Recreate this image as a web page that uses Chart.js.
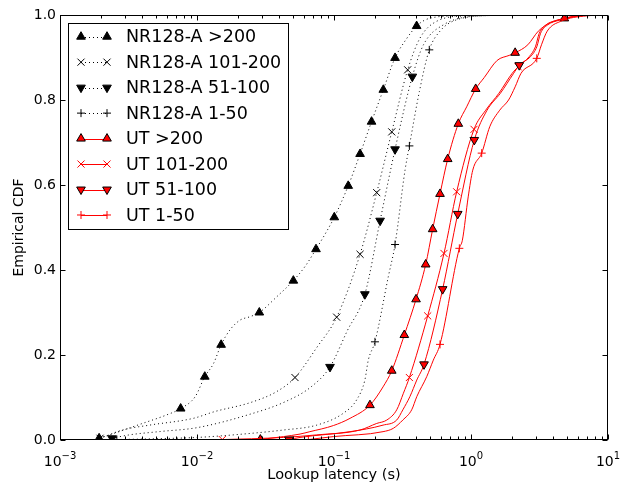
<!DOCTYPE html>
<html>
<head>
<meta charset="utf-8">
<script src="https://cdn.jsdelivr.net/npm/chart.js@4/dist/chart.umd.min.js"></script>
<style>
  html, body { margin: 0; padding: 0; background: #fff; }
</style>
</head>
<body>
<canvas id="c" width="628" height="484"></canvas>
<script>
// Empirical CDFs of lookup latency (s).
const nrOver200X = [0.00193, 0.0026, 0.0040, 0.0060, 0.0076, 0.0097, 0.0114, 0.0132, 0.0150, 0.0174, 0.0206, 0.0243, 0.0285, 0.0382, 0.0505, 0.062, 0.0739, 0.087, 0.1005, 0.127, 0.155, 0.188, 0.229, 0.279, 0.34, 0.401, 0.46, 0.55, 0.75, 1.2, 3.0, 8.0];
const nrOver200Y = [0.004, 0.018, 0.039, 0.059, 0.074, 0.102, 0.149, 0.180, 0.224, 0.259, 0.282, 0.290, 0.300, 0.337, 0.375, 0.410, 0.449, 0.487, 0.524, 0.598, 0.673, 0.749, 0.824, 0.899, 0.945, 0.974, 0.988, 0.995, 0.998, 0.999, 1.0, 1.0];
const nrOver200Marks = [0, 4, 6, 8, 12, 14, 16, 18, 19, 20, 21, 22, 23, 25];

const nr101X = [0.00196, 0.0029, 0.0045, 0.0094, 0.0135, 0.0245, 0.0382, 0.0519, 0.075, 0.1046, 0.155, 0.205, 0.264, 0.345, 0.425, 0.56, 0.93, 2.5, 8.0];
const nr101Y = [0.004, 0.024, 0.035, 0.051, 0.067, 0.088, 0.114, 0.147, 0.218, 0.289, 0.437, 0.582, 0.725, 0.871, 0.946, 0.985, 0.998, 1.0, 1.0];
const nr101Marks = [0, 7, 9, 10, 11, 12, 13];

const nr51X = [0.0024, 0.0032, 0.0054, 0.0100, 0.024, 0.044, 0.068, 0.0935, 0.125, 0.168, 0.217, 0.279, 0.373, 0.45, 0.63, 1.2, 3.0, 8.0];
const nr51Y = [0.004, 0.012, 0.020, 0.029, 0.060, 0.090, 0.125, 0.172, 0.257, 0.343, 0.516, 0.684, 0.855, 0.930, 0.977, 0.998, 1.0, 1.0];
const nr51Marks = [0, 7, 9, 10, 11, 12];

const nr1X = [0.0026, 0.0050, 0.0100, 0.0200, 0.0427, 0.0748, 0.117, 0.146, 0.168, 0.178, 0.199, 0.249, 0.279, 0.33, 0.355, 0.42, 0.496, 0.594, 0.79, 1.5, 4.0, 8.0];
const nr1Y = [0.001, 0.003, 0.006, 0.013, 0.0235, 0.035, 0.063, 0.094, 0.141, 0.188, 0.231, 0.384, 0.46, 0.635, 0.692, 0.82, 0.918, 0.962, 0.989, 0.999, 1.0, 1.0];
const nr1Marks = [0, 10, 12, 14, 16];

const utOver200X = [0.029, 0.0427, 0.0565, 0.0667, 0.099, 0.131, 0.183, 0.228, 0.264, 0.326, 0.397, 0.467, 0.525, 0.594, 0.676, 0.808, 0.93, 1.082, 1.25, 1.55, 1.9, 2.1, 2.6, 3.1, 3.8, 4.8, 6.5, 10];
const utOver200Y = [0.001, 0.008, 0.014, 0.0196, 0.034, 0.051, 0.082, 0.125, 0.163, 0.247, 0.331, 0.413, 0.496, 0.579, 0.661, 0.744, 0.784, 0.826, 0.853, 0.893, 0.905, 0.911, 0.93, 0.962, 0.982, 0.992, 0.999, 1.0];
const utOver200Marks = [0, 6, 8, 9, 10, 11, 12, 13, 14, 15, 17, 21, 25];

const ut101X = [0.0153, 0.025, 0.0427, 0.0748, 0.155, 0.205, 0.243, 0.287, 0.321, 0.355, 0.483, 0.635, 0.786, 1.052, 1.28, 1.6, 2.0, 2.21, 2.66, 2.95, 3.15, 3.5, 4.3, 6.5, 10];
const ut101Y = [0.001, 0.003, 0.006, 0.012, 0.0235, 0.039, 0.047, 0.071, 0.11, 0.147, 0.292, 0.439, 0.584, 0.731, 0.776, 0.816, 0.863, 0.878, 0.902, 0.925, 0.957, 0.976, 0.988, 0.999, 1.0];
const ut101Marks = [0, 9, 10, 11, 12, 13, 17];

const ut51X = [0.047, 0.0565, 0.131, 0.228, 0.287, 0.318, 0.358, 0.402, 0.454, 0.621, 0.80, 1.057, 1.31, 1.64, 2.05, 2.25, 2.72, 3.02, 3.22, 3.6, 4.45, 6.7, 10];
const ut51Y = [0.001, 0.006, 0.0196, 0.035, 0.047, 0.071, 0.102, 0.141, 0.178, 0.355, 0.532, 0.706, 0.776, 0.816, 0.863, 0.882, 0.902, 0.925, 0.957, 0.976, 0.988, 0.999, 1.0];
const ut51Marks = [0, 8, 9, 10, 11, 15];

const ut1X = [0.065, 0.099, 0.228, 0.271, 0.318, 0.369, 0.402, 0.475, 0.531, 0.594, 0.822, 0.865, 0.954, 1.03, 1.197, 1.37, 1.62, 1.88, 2.1, 2.32, 3.02, 3.27, 3.6, 4.5, 7.0, 10];
const ut1Y = [0.001, 0.008, 0.0196, 0.0275, 0.047, 0.071, 0.102, 0.149, 0.188, 0.225, 0.451, 0.47, 0.572, 0.635, 0.675, 0.737, 0.776, 0.80, 0.831, 0.863, 0.898, 0.93, 0.962, 0.985, 0.998, 1.0];
const ut1Marks = [0, 9, 10, 14, 20];

const xTickValues = [0.001, 0.01, 0.1, 1, 10];
const xTickExponents = ['\u22123', '\u22122', '\u22121', '0', '1'];
const yTickValues = [0, 0.2, 0.4, 0.6, 0.8, 1.0];

const FONT = 'DejaVu Sans';
Chart.defaults.font.family = FONT;
Chart.defaults.color = '#000';

const DOTTED = [1, 3];
const series = [
	{ label: 'NR128-A >200', x: nrOver200X, y: nrOver200Y, marks: nrOver200Marks, line: '#000', fill: '#000', edge: '#000', style: 'triangle', rot: 0, r: 5, dash: DOTTED },
	{ label: 'NR128-A 101-200', x: nr101X, y: nr101Y, marks: nr101Marks, line: '#000', fill: '#000', edge: '#000', style: 'crossRot', rot: 0, r: 5, dash: DOTTED },
	{ label: 'NR128-A 51-100', x: nr51X, y: nr51Y, marks: nr51Marks, line: '#000', fill: '#000', edge: '#000', style: 'triangle', rot: 180, r: 5, dash: DOTTED },
	{ label: 'NR128-A 1-50', x: nr1X, y: nr1Y, marks: nr1Marks, line: '#000', fill: '#000', edge: '#000', style: 'cross', rot: 0, r: 4, dash: DOTTED },
	{ label: 'UT >200', x: utOver200X, y: utOver200Y, marks: utOver200Marks, line: '#ff0000', fill: '#ff0000', edge: '#000', style: 'triangle', rot: 0, r: 5, dash: [] },
	{ label: 'UT 101-200', x: ut101X, y: ut101Y, marks: ut101Marks, line: '#ff0000', fill: '#ff0000', edge: '#ff0000', style: 'crossRot', rot: 0, r: 5, dash: [] },
	{ label: 'UT 51-100', x: ut51X, y: ut51Y, marks: ut51Marks, line: '#ff0000', fill: '#ff0000', edge: '#000', style: 'triangle', rot: 180, r: 5, dash: [] },
	{ label: 'UT 1-50', x: ut1X, y: ut1Y, marks: ut1Marks, line: '#ff0000', fill: '#ff0000', edge: '#ff0000', style: 'cross', rot: 0, r: 4, dash: [] },
];

const datasets = series.map( ( s, i ) => ( {
	label: s.label,
	data: s.x.map( ( v, k ) => ( { x: v, y: s.y[ k ] } ) ),
	borderColor: s.line,
	borderWidth: 1,
	borderDash: s.dash,
	cubicInterpolationMode: 'monotone',
	fill: false,
	pointStyle: s.style,
	pointRotation: s.rot,
	pointBackgroundColor: s.fill,
	pointBorderColor: s.edge,
	pointBorderWidth: 1,
	pointRadius: ( ctx ) => ( s.marks.includes( ctx.dataIndex ) ? s.r : 0 ),
	pointHoverRadius: 0,
	clip: 0,
	order: series.length - i,
} ) );

// Inward ticks on all four sides, the box, mathtext-like x labels and the legend.
const framePlugin = {
	id: 'frame',
	afterDatasetsDraw( chart ) {
		const { ctx, chartArea: a, scales: { x, y } } = chart;
		const L = Math.round( a.left ) + 0.5, R = Math.round( a.right ) - 0.5;
		const T = Math.round( a.top ) + 0.5, B = Math.round( a.bottom ) - 0.5;
		ctx.save();
		ctx.strokeStyle = '#000';
		ctx.lineWidth = 1;
		ctx.setLineDash( [] );
		ctx.strokeRect( L, T, R - L, B - T );

		ctx.beginPath();
		for ( let d = -3; d <= 1; d++ ) {
			for ( let k = 1; k <= 9; k++ ) {
				const v = k * Math.pow( 10, d );
				if ( v > 10.0001 ) break;
				const px = Math.round( x.getPixelForValue( v ) ) + 0.5;
				const len = k === 1 ? 5 : 3;
				ctx.moveTo( px, B ); ctx.lineTo( px, B - len );
				ctx.moveTo( px, T ); ctx.lineTo( px, T + len );
			}
		}
		yTickValues.forEach( ( v ) => {
			const py = Math.round( y.getPixelForValue( v ) ) + 0.5;
			ctx.moveTo( L, py ); ctx.lineTo( L + 5, py );
			ctx.moveTo( R, py ); ctx.lineTo( R - 5, py );
		} );
		ctx.stroke();

		// x tick labels: 10 with a raised exponent
		ctx.fillStyle = '#000';
		ctx.textBaseline = 'alphabetic';
		ctx.textAlign = 'left';
		xTickValues.forEach( ( v, i ) => {
			const px = x.getPixelForValue( v );
			ctx.font = '14px "' + FONT + '"';
			const w1 = ctx.measureText( '10' ).width;
			ctx.font = '10px "' + FONT + '"';
			const w2 = ctx.measureText( xTickExponents[ i ] ).width;
			const x0 = px - ( w1 + w2 ) / 2;
			ctx.font = '14px "' + FONT + '"';
			ctx.fillText( '10', x0, 466 );
			ctx.font = '10px "' + FONT + '"';
			ctx.fillText( xTickExponents[ i ], x0 + w1, 459 );
		} );

		// legend
		const lx = 68.5, ly = 23.5, lw = 220, lh = 206;
		ctx.fillStyle = '#fff';
		ctx.fillRect( lx, ly, lw, lh );
		ctx.strokeRect( lx, ly, lw, lh );
		const drawPoint = Chart.helpers && Chart.helpers.drawPoint;
		series.forEach( ( s, i ) => {
			const cy = 36.7 + i * 25.47;
			const x1 = 81, x2 = 107;
			ctx.strokeStyle = s.line;
			ctx.lineWidth = 1;
			ctx.setLineDash( s.dash );
			ctx.beginPath();
			ctx.moveTo( x1, Math.round( cy ) + 0.5 );
			ctx.lineTo( x2, Math.round( cy ) + 0.5 );
			ctx.stroke();
			ctx.setLineDash( [] );
			if ( drawPoint ) {
				ctx.fillStyle = s.fill;
				ctx.strokeStyle = s.edge;
				[ x1, x2 ].forEach( ( px ) => drawPoint( ctx, { pointStyle: s.style, rotation: s.rot, radius: s.r, borderWidth: 1 }, px, cy ) );
			}
			ctx.fillStyle = '#000';
			ctx.font = '17.5px "' + FONT + '"';
			ctx.textBaseline = 'middle';
			ctx.fillText( s.label, 126, cy + 1 );
		} );
		ctx.restore();
	},
};

new Chart( document.getElementById( 'c' ), {
	type: 'line',
	data: { datasets },
	options: {
		responsive: false,
		animation: false,
		events: [],
		layout: { padding: { top: 15, right: 20, left: 0, bottom: 0 } },
		plugins: { legend: { display: false }, tooltip: { enabled: false } },
		scales: {
			x: {
				type: 'logarithmic',
				min: 0.001,
				max: 10,
				afterFit: ( s ) => { s.height = 44; },
				grid: { display: false, drawTicks: false },
				border: { display: false },
				ticks: { display: false },
				title: { display: true, text: 'Lookup latency (s)', color: '#000', font: { size: 14.5 }, padding: { top: 0, bottom: 0 } },
			},
			y: {
				type: 'linear',
				min: 0,
				max: 1,
				afterFit: ( s ) => { s.width = 60; },
				afterBuildTicks: ( s ) => { s.ticks = yTickValues.map( ( v ) => ( { value: v } ) ); },
				grid: { display: false, drawTicks: false },
				border: { display: false },
				ticks: { color: '#000', font: { size: 14 }, padding: 4, callback: ( v ) => Number( v ).toFixed( 1 ) },
				title: { display: true, text: 'Empirical CDF', color: '#000', font: { size: 14 }, padding: { top: 11, bottom: 0 } },
			},
		},
	},
	plugins: [ framePlugin ],
} );
</script>
</body>
</html>
